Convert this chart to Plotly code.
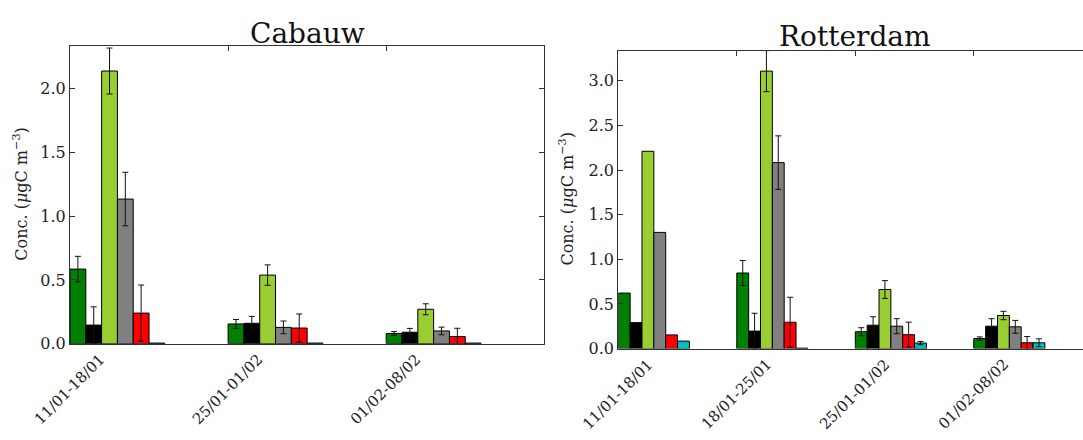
import plotly.graph_objects as go

# ---------------- data ----------------
cab_periods = ["11/01-18/01", "25/01-01/02", "01/02-08/02"]
rot_periods = ["11/01-18/01", "18/01-25/01", "25/01-01/02", "01/02-08/02"]

series_colors = ["#008000", "#000000", "#9acd32", "#808080", "#ff0000", "#00bfbf"]

# Cabauw values and errors (one list per series)
cab_green = [0.585, 0.155, 0.080]
cab_black = [0.146, 0.160, 0.090]
cab_yellowgreen = [2.138, 0.538, 0.270]
cab_gray = [1.134, 0.128, 0.100]
cab_red = [0.240, 0.123, 0.056]
cab_cyan = [0.005, 0.005, 0.005]

cab_green_err = [0.100, 0.035, 0.015]
cab_black_err = [0.143, 0.054, 0.030]
cab_yellowgreen_err = [0.180, 0.080, 0.043]
cab_gray_err = [0.210, 0.050, 0.030]
cab_red_err = [0.220, 0.110, 0.065]
cab_cyan_err = [None, None, None]

# Rotterdam values and errors
rot_green = [0.622, 0.847, 0.189, 0.113]
rot_black = [0.291, 0.196, 0.262, 0.251]
rot_yellowgreen = [2.211, 3.109, 0.662, 0.371]
rot_gray = [1.302, 2.084, 0.251, 0.244]
rot_red = [0.153, 0.295, 0.156, 0.065]
rot_cyan = [0.084, 0.005, 0.062, 0.065]

rot_green_err = [None, 0.140, 0.045, 0.018]
rot_black_err = [None, 0.200, 0.095, 0.084]
rot_yellowgreen_err = [None, 0.230, 0.100, 0.047]
rot_gray_err = [None, 0.300, 0.084, 0.072]
rot_red_err = [None, 0.280, 0.140, 0.070]
rot_cyan_err = [None, None, 0.018, 0.044]

cab_series = [cab_green, cab_black, cab_yellowgreen, cab_gray, cab_red, cab_cyan]
cab_errs = [cab_green_err, cab_black_err, cab_yellowgreen_err, cab_gray_err, cab_red_err, cab_cyan_err]
rot_series = [rot_green, rot_black, rot_yellowgreen, rot_gray, rot_red, rot_cyan]
rot_errs = [rot_green_err, rot_black_err, rot_yellowgreen_err, rot_gray_err, rot_red_err, rot_cyan_err]

y_ticks_cab = [0.0, 0.5, 1.0, 1.5, 2.0]
y_ticks_rot = [0.0, 0.5, 1.0, 1.5, 2.0, 2.5, 3.0]

# ---------------- figure ----------------
W, H = 1083, 440
FONT = "DejaVu Serif"
SMALL = 16
XLAB = 15
BAR_W = 0.1

fig = go.Figure()


def add_site(series, errs, periods, xa, ya):
    for k, (vals, err) in enumerate(zip(series, errs)):
        # bars with an error bar and bars without one go in separate traces
        for with_err in (False, True):
            idx = [i for i, e in enumerate(err) if (e is not None) == with_err]
            if not idx:
                continue
            fig.add_trace(go.Bar(
                x=idx, y=[vals[i] for i in idx], width=BAR_W, offset=k * BAR_W,
                marker=dict(color=series_colors[k], line=dict(color="#000000", width=1)),
                error_y=dict(type="data", array=[err[i] for i in idx] if with_err else None,
                             visible=with_err, color="#111111", thickness=1, width=3),
                xaxis=xa, yaxis=ya, showlegend=False, hoverinfo="skip",
            ))


add_site(cab_series, cab_errs, cab_periods, "x", "y")
add_site(rot_series, rot_errs, rot_periods, "x2", "y2")

# pixel layout
L_x0, L_x1 = 70.0, 544.3
L_top, L_bot = 46.7, 351.7
R_x0 = 618.3
R_unit = 118.5
R_top, R_bot = 51.7, 356.7


def px(x):
    return x / W


def py(y):
    return (H - y) / H


axis_common = dict(
    showline=True, linecolor="#333333", linewidth=1.2,
    ticks="inside", ticklen=5, tickcolor="#333333", tickwidth=1,
    showgrid=False, zeroline=False,
    tickfont=dict(family=FONT, size=SMALL, color="#222222"),
)

fig.update_layout(
    width=W, height=H,
    margin=dict(l=0, r=0, t=0, b=0),
    paper_bgcolor="white", plot_bgcolor="white",
    barmode="overlay",
    font=dict(family=FONT, color="#222222"),
    xaxis=dict(domain=[px(L_x0), px(L_x1)], range=[0, len(cab_periods)],
               tickvals=list(range(len(cab_periods))), showticklabels=False,
               mirror="ticks", anchor="y", **axis_common),
    yaxis=dict(domain=[py(L_bot), py(L_top)], range=[0, 2.337],
               tickvals=y_ticks_cab, ticktext=[f"{v:.1f}" for v in y_ticks_cab],
               mirror="ticks", anchor="x", **axis_common),
    xaxis2=dict(domain=[px(R_x0), 1.0], range=[0, (W - R_x0) / R_unit],
                tickvals=list(range(len(rot_periods))), showticklabels=False,
                mirror="ticks", anchor="y2", **axis_common),
    yaxis2=dict(domain=[py(R_bot), py(R_top)], range=[0, 3.34],
                tickvals=y_ticks_rot, ticktext=[f"{v:.1f}" for v in y_ticks_rot],
                mirror=False, anchor="x2", **axis_common),
)

ann = []
# titles
ann.append(dict(text="Cabauw", x=px((L_x0 + L_x1) / 2), y=py(34), xref="paper", yref="paper",
                xanchor="center", yanchor="middle", showarrow=False,
                font=dict(family=FONT, size=28, color="#111111")))
ann.append(dict(text="Rotterdam", x=px(R_x0 + 2 * R_unit), y=py(37), xref="paper", yref="paper",
                xanchor="center", yanchor="middle", showarrow=False,
                font=dict(family=FONT, size=28, color="#111111")))
# y titles
ylab = "Conc. (<i>μ</i>gC m<sup>−3</sup>)"
ann.append(dict(text=ylab, x=px(21), y=py((L_top + L_bot) / 2), xref="paper", yref="paper",
                xanchor="center", yanchor="middle", textangle=-90, showarrow=False,
                font=dict(family=FONT, size=SMALL, color="#222222")))
ann.append(dict(text=ylab, x=px(567), y=py((R_top + R_bot) / 2), xref="paper", yref="paper",
                xanchor="center", yanchor="middle", textangle=-90, showarrow=False,
                font=dict(family=FONT, size=SMALL, color="#222222")))
# rotated category labels
for i, lab in enumerate(cab_periods):
    ann.append(dict(text=lab, x=i, y=py(L_bot), xref="x", yref="paper",
                    xanchor="center", yanchor="top", yshift=-4, textangle=-45, showarrow=False,
                    font=dict(family=FONT, size=XLAB, color="#222222")))
for i, lab in enumerate(rot_periods):
    ann.append(dict(text=lab, x=i, y=py(R_bot), xref="x2", yref="paper",
                    xanchor="center", yanchor="top", yshift=-4, textangle=-45, showarrow=False,
                    font=dict(family=FONT, size=XLAB, color="#222222")))

fig.update_layout(annotations=ann)

fig.write_html("out.html",
               config={"displayModeBar": False},
               post_script="document.body.style.margin='0px';document.body.style.overflow='hidden';")
